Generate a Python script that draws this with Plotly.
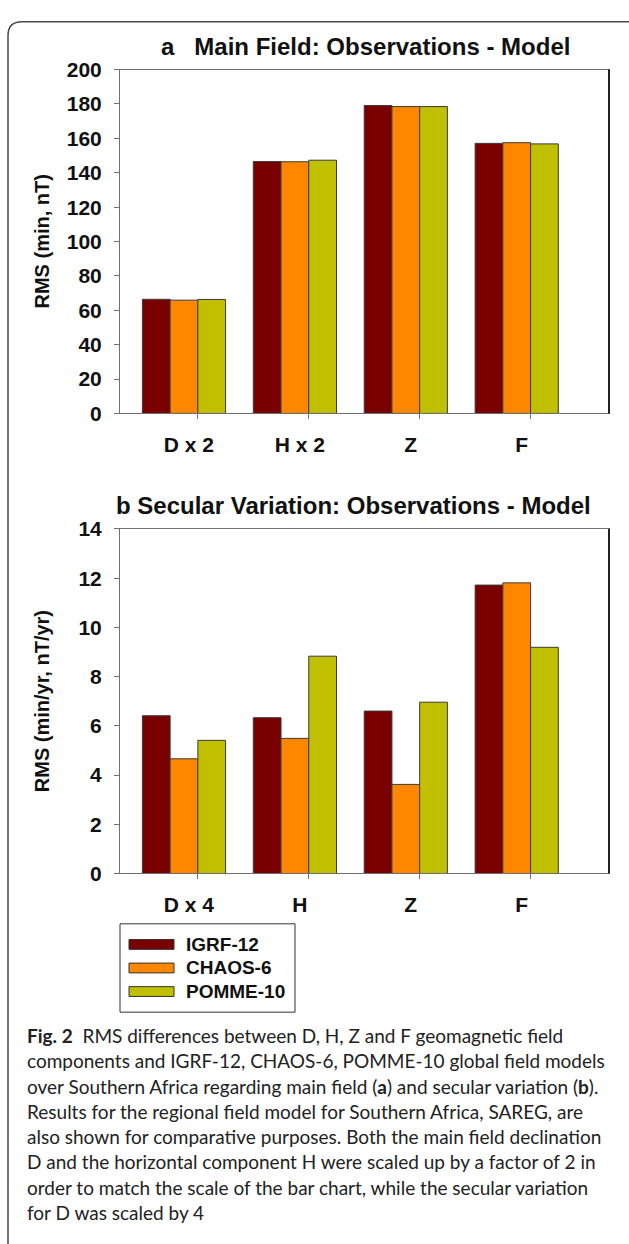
import plotly.graph_objects as go

W, H = 629, 1244

# ---------------- data ----------------
models = ["IGRF-12", "CHAOS-6", "POMME-10"]
colors = ["#7A0000", "#FF8700", "#C0C000"]

cats_a = ["D x 2", "H x 2", "Z", "F"]
main_igrf = [66.4, 146.5, 179.1, 157.1]
main_chaos = [65.9, 146.4, 178.5, 157.5]
main_pomme = [66.3, 147.3, 178.5, 156.8]

cats_b = ["D x 4", "H", "Z", "F"]
sv_igrf = [6.41, 6.33, 6.60, 11.72]
sv_chaos = [4.66, 5.49, 3.62, 11.81]
sv_pomme = [5.41, 8.83, 6.96, 9.19]

yticks_a = list(range(0, 201, 20))
yticks_b = list(range(0, 15, 2))

title_a = "a\u00a0\u00a0 Main Field: Observations - Model"
title_b = "b Secular Variation: Observations - Model"
ytitle_a = "RMS (min, nT)"
ytitle_b = "RMS (min/yr, nT/yr)"

caption_lines = [
    "<b>Fig. 2</b>\u00a0 RMS differences between D, H, Z and F geomagnetic field",
    "components and IGRF-12, CHAOS-6, POMME-10 global field models",
    "over Southern Africa regarding main field (<b>a</b>) and secular variation (<b>b</b>).",
    "Results for the regional field model for Southern Africa, SAREG, are",
    "also shown for comparative purposes. Both the main field declination",
    "D and the horizontal component H were scaled up by a factor of 2 in",
    "order to match the scale of the bar chart, while the secular variation",
    "for D was scaled by 4",
]


def px_x(x):
    return x / W


def px_y(y):
    return 1 - y / H


FONT = "Liberation Sans, Arial, sans-serif"
AX = "#6f6f6f"

fig = go.Figure()
pos = list(range(len(cats_a)))

for name, col, vals in zip(models, colors, [main_igrf, main_chaos, main_pomme]):
    fig.add_trace(go.Bar(x=pos, y=vals, name=name, marker=dict(color=col, line=dict(color="#3a3a3a", width=1)),
                         xaxis="x", yaxis="y", showlegend=False, hoverinfo="skip"))
for name, col, vals in zip(models, colors, [sv_igrf, sv_chaos, sv_pomme]):
    fig.add_trace(go.Bar(x=pos, y=vals, name=name, marker=dict(color=col, line=dict(color="#3a3a3a", width=1)),
                         xaxis="x2", yaxis="y2", showlegend=False, hoverinfo="skip"))

xdom = [px_x(120), px_x(609)]
yd_a = [px_y(409), px_y(58.7)]
yd_b = [px_y(877.7), px_y(526.7)]
xr = [-0.577, 3.832]
tickpos = [p + 0.125 for p in pos]

common_x = dict(type="linear", range=xr, domain=xdom, showgrid=False, zeroline=False,
                showline=True, linecolor=AX, linewidth=1, mirror=True,
                ticks="outside", ticklen=5, tickcolor=AX, tickwidth=1,
                tickfont=dict(family=FONT, size=21, color="#111", weight="bold"),
                ticklabelstandoff=7, ticklabelshift=-9, fixedrange=True)
common_y = dict(showgrid=False, zeroline=False, showline=True, linecolor=AX, linewidth=1, mirror=True,
                ticks="outside", ticklen=5, tickcolor=AX, tickwidth=1,
                tickfont=dict(family=FONT, size=21, color="#111", weight="bold"),
                ticklabelstandoff=8, fixedrange=True)

fig.update_layout(
    width=W, height=H,
    margin=dict(l=0, r=0, t=0, b=0),
    paper_bgcolor="white", plot_bgcolor="white",
    barmode="group", bargap=0.25, bargroupgap=0,
    xaxis=dict(**common_x, anchor="y", tickvals=tickpos, ticktext=cats_a),
    yaxis=dict(**common_y, domain=yd_a, anchor="x", range=[0, 200], tickvals=yticks_a),
    xaxis2=dict(**common_x, anchor="y2", tickvals=tickpos, ticktext=cats_b),
    yaxis2=dict(**common_y, domain=yd_b, anchor="x2", range=[0, 14], tickvals=yticks_b),
    showlegend=False,
    hovermode=False,
)

shapes = []
# darker right frame edge
for xa, ya in [("x", "y"), ("x2", "y2")]:
    shapes.append(dict(type="line", xref=f"{xa} domain", yref=f"{ya} domain", x0=1, x1=1, y0=0, y1=1,
                       line=dict(color="#222", width=2)))
# outer rounded panel border
path = (f"M {px_x(8)},{px_y(1260)} L {px_x(8)},{px_y(24)} Q {px_x(8)},{px_y(10)} {px_x(22)},{px_y(10)} "
        f"L {px_x(660)},{px_y(10)}")
shapes.append(dict(type="path", xref="paper", yref="paper", path=path, line=dict(color="#4a4a4a", width=1.5)))

# legend box
shapes.append(dict(type="rect", xref="paper", yref="paper", x0=px_x(120), x1=px_x(295), y0=px_y(1019), y1=px_y(929),
                   line=dict(color="#333", width=1), fillcolor="white"))
annotations = []
for i, (name, col) in enumerate(zip(models, colors)):
    cy = 950 + i * 24
    shapes.append(dict(type="rect", xref="paper", yref="paper", x0=px_x(129), x1=px_x(174),
                       y0=px_y(cy + 5), y1=px_y(cy - 5), fillcolor=col, line=dict(color="#333", width=1)))
    annotations.append(dict(xref="paper", yref="paper", x=px_x(184), y=px_y(cy), xanchor="left", yanchor="middle",
                            text=name, showarrow=False, font=dict(family=FONT, size=19, color="#111", weight="bold")))

# titles
annotations.append(dict(xref="paper", yref="paper", x=px_x(159), y=px_y(35), xanchor="left", yanchor="middle",
                        text=title_a, showarrow=False, font=dict(family=FONT, size=24, color="#111", weight="bold")))
annotations.append(dict(xref="paper", yref="paper", x=px_x(114), y=px_y(503), xanchor="left", yanchor="middle",
                        text=title_b, showarrow=False, font=dict(family=FONT, size=24, color="#111", weight="bold")))
# y axis titles
annotations.append(dict(xref="paper", yref="paper", x=px_x(42), y=(yd_a[0] + yd_a[1]) / 2, xanchor="center",
                        yanchor="middle", textangle=-90, text=ytitle_a, showarrow=False,
                        font=dict(family=FONT, size=20, color="#111", weight="bold")))
annotations.append(dict(xref="paper", yref="paper", x=px_x(42), y=(yd_b[0] + yd_b[1]) / 2, xanchor="center",
                        yanchor="middle", textangle=-90, text=ytitle_b, showarrow=False,
                        font=dict(family=FONT, size=20, color="#111", weight="bold")))
# caption, one annotation per line for exact spacing
for i, line in enumerate(caption_lines):
    annotations.append(dict(xref="paper", yref="paper", x=px_x(25), y=px_y(1043 + 25.7 * i), xanchor="left",
                            yanchor="middle", align="left", text=line, showarrow=False,
                            font=dict(family="Lato, Noto Sans, sans-serif", size=19, color="#222")))

fig.update_layout(shapes=shapes, annotations=annotations)
fig.write_html("out.html", config={"displayModeBar": False, "staticPlot": True},
               post_script="document.body.style.margin='0';document.body.style.overflow='hidden';")
